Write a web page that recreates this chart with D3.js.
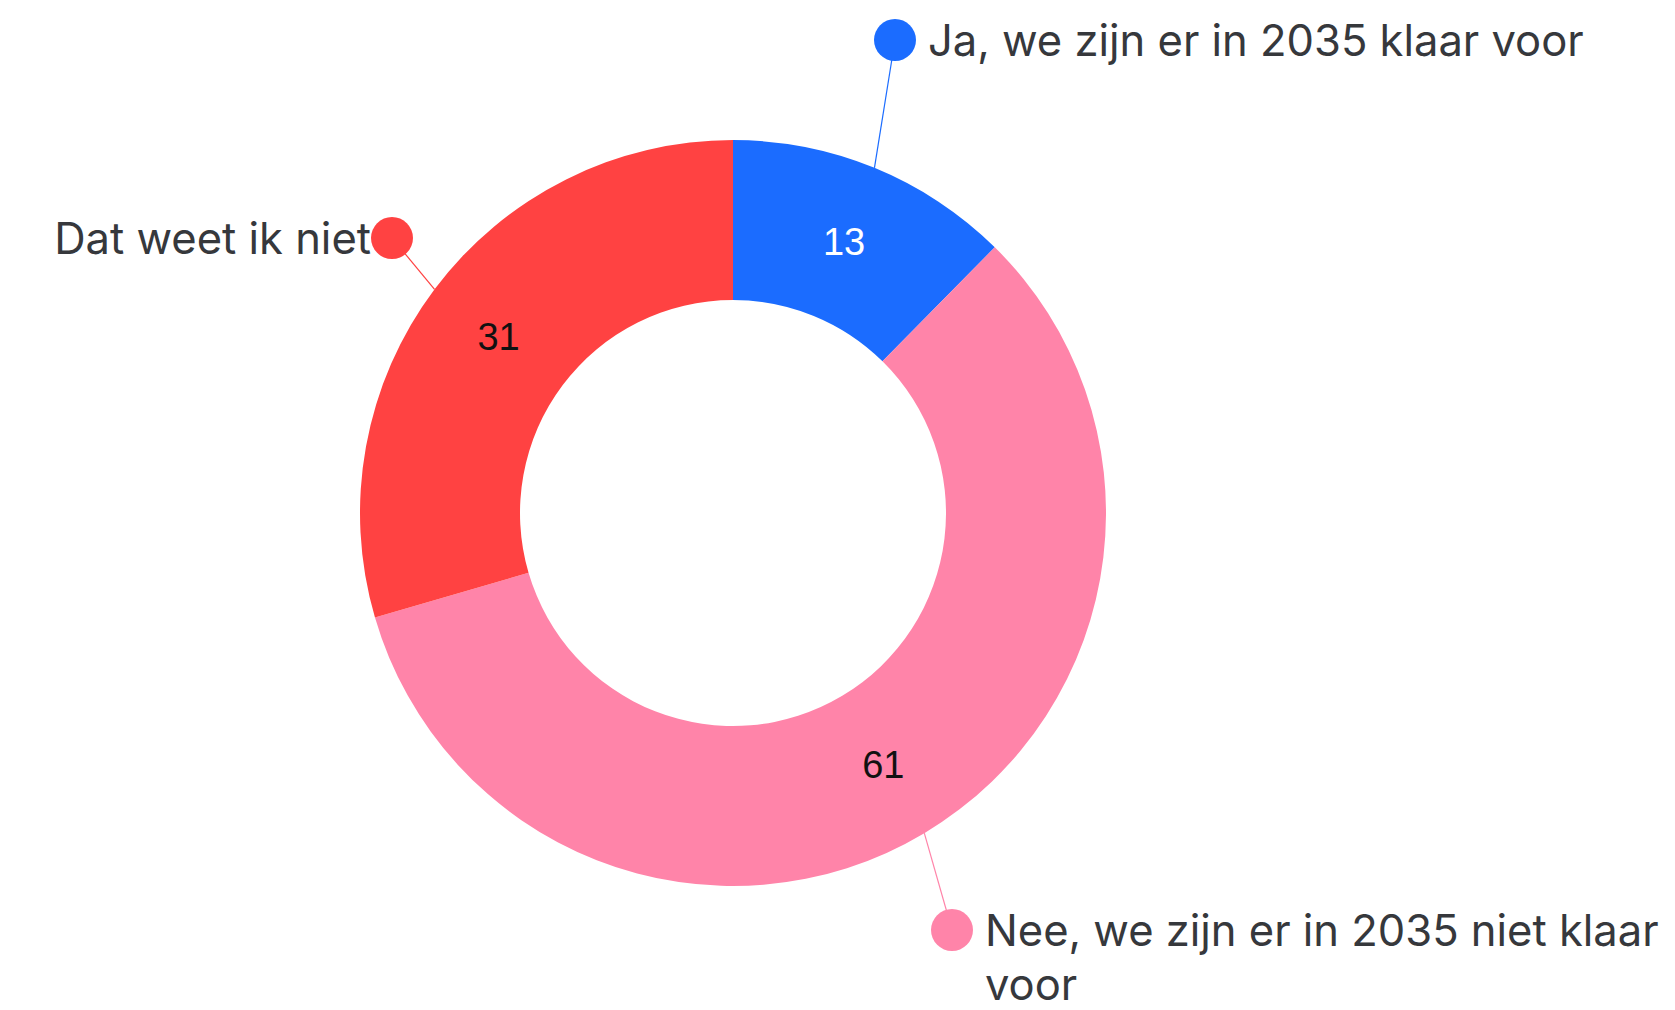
<!DOCTYPE html>
<html lang="nl">
<head>
    <meta charset="UTF-8">
    <script src="https://cdnjs.cloudflare.com/ajax/libs/d3/7.8.5/d3.min.js"></script>
    <style>
        body { margin: 0; background: #fff; }
        text.cat {
            font-family: Inter, "Open Sans", sans-serif;
            fill: #36383c;
        }
        text.val {
            font-family: "Liberation Sans", Arial, sans-serif;
            font-size: 38px;
            text-anchor: middle;
            dominant-baseline: central;
        }
    </style>
</head>
<body>
<svg id="chart" width="1675" height="1010"></svg>
<script>
    const categories = ["Ja, we zijn er in 2035 klaar voor",
        "Nee, we zijn er in 2035 niet klaar voor",
        "Dat weet ik niet"];
    const values = [13, 61, 31];
    const colors = ["#1b6cff", "#ff84a9", "#ff4242"];
    const valueColors = ["#ffffff", "#111111", "#111111"];

    // label dots, placed by hand like the original
    const dotPos = [[895, 40], [952, 930], [392, 238]];
    const labelSide = ["right", "right", "left"];

    const svg = d3.select("#chart");
    const cx = 733, cy = 513, rOuter = 373, rInner = 213;

    const pie = d3.pie().sort(null).value(d => d);
    const arcs = pie(values);
    const arc = d3.arc().innerRadius(rInner).outerRadius(rOuter);

    const g = svg.append("g").attr("transform", `translate(${cx},${cy})`);

    g.selectAll("path.slice")
        .data(arcs)
        .enter()
        .append("path")
        .attr("class", "slice")
        .attr("d", arc)
        .attr("fill", (d, i) => colors[i]);

    // connectors
    const edge = d3.arc().innerRadius(rOuter).outerRadius(rOuter);
    svg.selectAll("line.conn")
        .data(arcs)
        .enter()
        .append("line")
        .attr("class", "conn")
        .attr("x1", d => cx + edge.centroid(d)[0])
        .attr("y1", d => cy + edge.centroid(d)[1])
        .attr("x2", (d, i) => dotPos[i][0])
        .attr("y2", (d, i) => dotPos[i][1])
        .attr("stroke", (d, i) => colors[i])
        .attr("stroke-width", 1.2);

    svg.selectAll("circle.dot")
        .data(arcs)
        .enter()
        .append("circle")
        .attr("class", "dot")
        .attr("cx", (d, i) => dotPos[i][0])
        .attr("cy", (d, i) => dotPos[i][1])
        .attr("r", 21)
        .attr("fill", (d, i) => colors[i]);

    g.selectAll("text.val")
        .data(arcs)
        .enter()
        .append("text")
        .attr("class", "val")
        .attr("x", d => arc.centroid(d)[0])
        .attr("y", d => arc.centroid(d)[1])
        .attr("fill", (d, i) => valueColors[i])
        .text(d => d.data);

    // fit the label font to the width of the first label in the picture
    const probe = svg.append("text").attr("class", "cat")
        .style("font-size", "40px").text(categories[0]);
    const fontSize = 40 * 656 / probe.node().getComputedTextLength();
    probe.remove();
    const lineH = fontSize * 1.24;

    categories.forEach((c, i) => {
        const [dx, dy] = dotPos[i];
        const right = labelSide[i] === "right";
        const tx = right ? dx + 33 : dx - 21;
        const t = svg.append("text")
            .attr("class", "cat")
            .style("font-size", fontSize + "px")
            .attr("text-anchor", right ? "start" : "end")
            .attr("x", tx)
            .attr("y", dy + fontSize * 0.36);
        const maxW = right ? 1675 - tx - 4 : dx - 25;
        const words = c.split(" ");
        let line = [];
        let ts = t.append("tspan").attr("x", tx);
        words.forEach(w => {
            line.push(w);
            ts.text(line.join(" "));
            if (ts.node().getComputedTextLength() > maxW && line.length > 1) {
                line.pop();
                ts.text(line.join(" "));
                line = [w];
                ts = t.append("tspan")
                    .attr("x", tx)
                    .attr("dy", lineH)
                    .text(w);
            }
        });
    });
</script>
</body>
</html>
